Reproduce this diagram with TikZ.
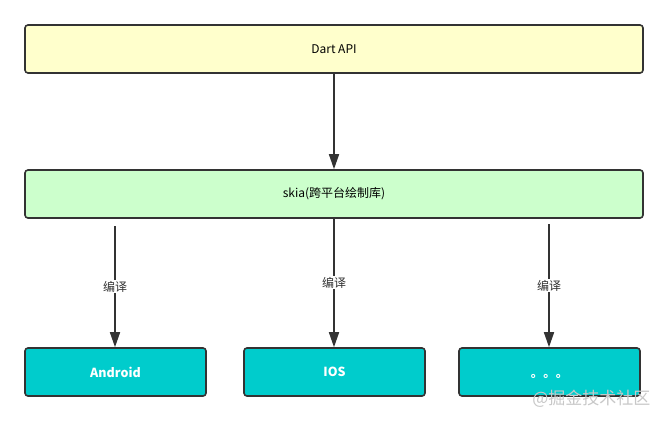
\documentclass[tikz,border=0pt]{standalone}
\usepackage{fontspec}
\setmainfont{Noto Sans CJK SC}
\usetikzlibrary{arrows.meta}
\definecolor{edgec}{HTML}{333333}
\definecolor{apifill}{HTML}{FFFFCC}
\definecolor{skiafill}{HTML}{CCFFCC}
\definecolor{osfill}{HTML}{00CCCC}
\definecolor{wmark}{HTML}{C8C8C8}
\tikzset{
  box/.style={draw=edgec, line width=1.6pt, rounded corners=3pt, inner sep=0pt,
    font=\fontsize{12}{14}\selectfont, text=black},
  widebox/.style={box, minimum width=618pt, minimum height=48pt},
  osbox/.style={box, fill=osfill, minimum width=181pt, minimum height=48pt,
    text=white, font=\fontsize{12.5}{14}\selectfont\bfseries},
  conn/.style={draw=edgec, line width=1.6pt, -{Triangle[length=15pt, width=10pt]}},
  lbl/.style={fill=white, inner sep=1pt, font=\fontsize{12}{14}\selectfont, text=edgec}
}
\begin{document}
\begin{tikzpicture}[x=1pt, y=-1pt]
  \path[use as bounding box, fill=white] (0,0) rectangle (669,421);
  \node[widebox, fill=apifill] (api) at (334,49) {Dart API};
  \node[widebox, fill=skiafill] (skia) at (334,194) {skia(跨平台绘制库)};
  \node[osbox] (android) at (115.5,372) {Android};
  \node[osbox] (ios) at (334.5,372) {IOS};
  \node[osbox] (more) at (549.5,372) {\smash{\raisebox{-5pt}{。。。}}};
  \coordinate (s1) at (115,226);
  \coordinate (s2) at (334,218);
  \coordinate (s3) at (549,224);
  \draw[conn] (api.south) -- (skia.north);
  \draw[conn] (s1) -- node[lbl] {编译} (s1 |- android.north);
  \draw[conn] (s2) -- node[lbl] {编译} (s2 |- ios.north);
  \draw[conn] (s3) -- node[lbl] {编译} (s3 |- more.north);
  \node[text=wmark, font=\fontsize{17}{18}\selectfont, anchor=east] (wm) at (654,399) {@掘金技术社区};
\end{tikzpicture}
\end{document}
